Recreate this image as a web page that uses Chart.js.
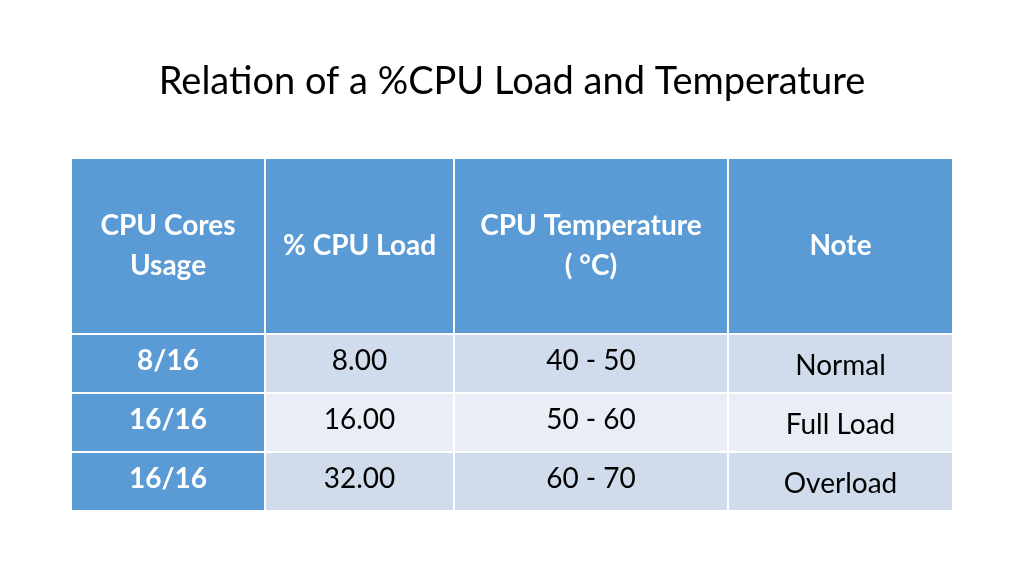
<!DOCTYPE html>
<html><head><meta charset="utf-8">
<script src="https://cdn.jsdelivr.net/npm/chart.js@4"></script>
<style>html,body{margin:0;background:#fff}#c{display:block}</style>
</head><body>
<canvas id="c" width="1024" height="576"></canvas>
<script>
const title = "Relation of a %CPU Load and Temperature";
const headers = [["CPU Cores","Usage"],["% CPU Load"],["CPU Temperature","( °C)"],["Note"]];
const coresUsage = ["8/16","16/16","16/16"];
const cpuLoad = ["8.00","16.00","32.00"];
const cpuTemp = ["40 - 50","50 - 60","60 - 70"];
const notes = ["Normal","Full Load","Overload"];
const colEdges = [0,194,383,657,882];
const rowEdges = [0,176,235,294,353];

const tablePlugin = {
  id:'table',
  afterDraw(chart){
    const ctx = chart.ctx, xs = chart.scales.x, ys = chart.scales.y;
    const X = v=>xs.getPixelForValue(v), Y = v=>ys.getPixelForValue(v);
    ctx.save();
    ctx.fillStyle='#000'; ctx.font='38px Lato'; ctx.textAlign='center'; ctx.textBaseline='middle';
    ctx.fillText(title,512,82);
    const rows = [null].concat(coresUsage.map((c,i)=>[c,cpuLoad[i],cpuTemp[i],notes[i]]));
    const dataBg = ['#D0DCEC','#E9EEF6','#D0DCEC'];
    for(let r=0;r<4;r++){
      for(let c=0;c<4;c++){
        const x0=X(colEdges[c]),x1=X(colEdges[c+1]),y0=Y(rowEdges[r]),y1=Y(rowEdges[r+1]);
        ctx.fillStyle = (r===0||c===0)?'#5B9BD5':dataBg[r-1];
        ctx.fillRect(x0,y0,x1-x0,y1-y0);
        ctx.strokeStyle='#fff'; ctx.lineWidth=2;
        ctx.strokeRect(x0,y0,x1-x0,y1-y0);
        const cx=(x0+x1)/2, cy=(y0+y1)/2;
        if(r===0){
          ctx.fillStyle='#fff'; ctx.font='bold 28px Lato';
          const lines=headers[c];
          lines.forEach((t,i)=>ctx.fillText(t,cx,cy+(i-(lines.length-1)/2)*40));
        } else {
          ctx.fillStyle = c===0?'#fff':'#000';
          ctx.font = (c===0?'bold ':'')+'28px Lato';
          const t=rows[r][c];
          ctx.fillText(t,cx,cy+(c===3?2:-3));
        }
      }
    }
    ctx.restore();
  }
};

new Chart(document.getElementById('c'),{
  type:'scatter',
  data:{datasets:[{data:[]}]},
  options:{
    responsive:false, animation:false,
    layout:{padding:{left:71,right:71,top:158,bottom:65}},
    plugins:{legend:{display:false},tooltip:{enabled:false}},
    scales:{
      x:{type:'linear',min:0,max:882,display:false},
      y:{type:'linear',min:0,max:353,reverse:true,display:false}
    }
  },
  plugins:[tablePlugin]
});
</script>
</body></html>
